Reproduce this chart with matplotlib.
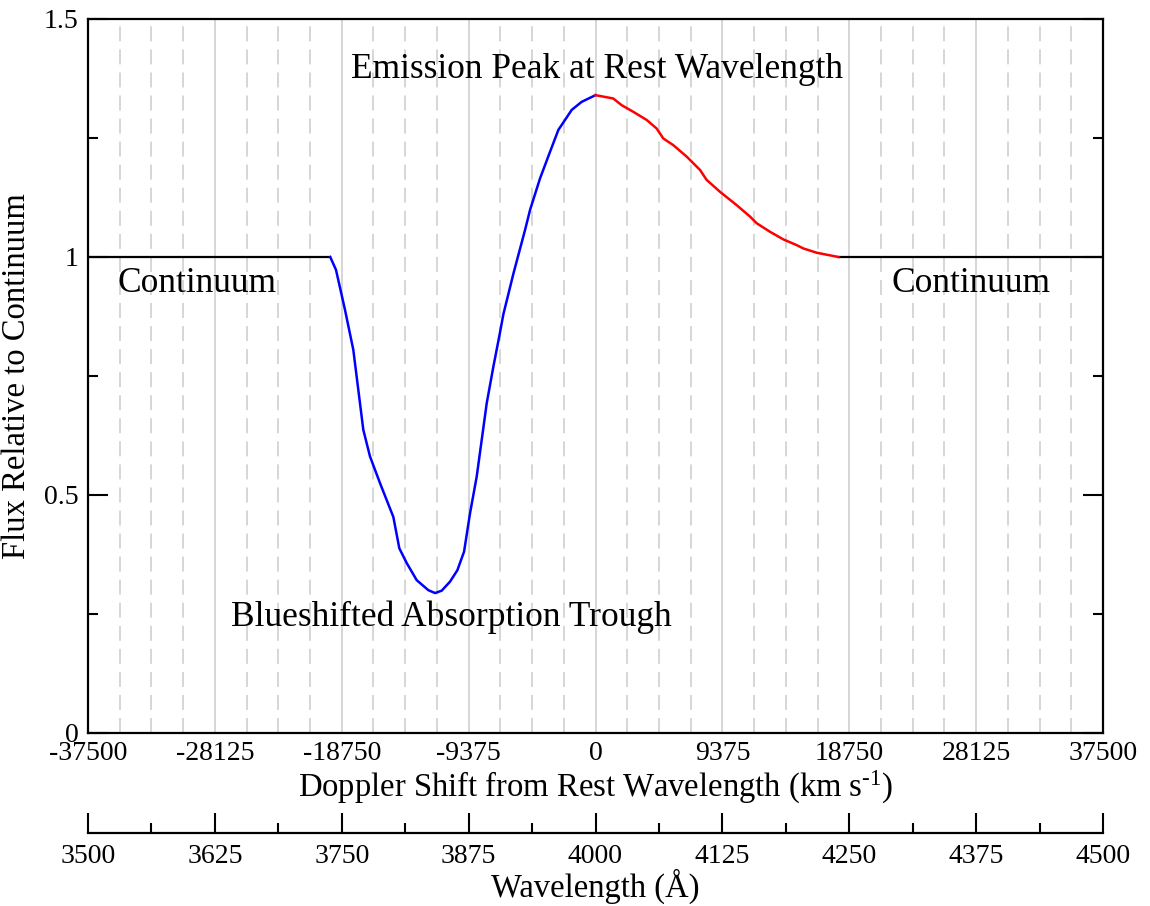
import matplotlib
matplotlib.use("Agg")
import matplotlib.pyplot as plt
from matplotlib.ticker import MultipleLocator, FormatStrFormatter

plt.rcParams['font.family'] = ['Liberation Serif', 'DejaVu Serif']
plt.rcParams['mathtext.fontset'] = 'custom'
plt.rcParams['mathtext.rm'] = 'Liberation Serif'
plt.rcParams['mathtext.it'] = 'Liberation Serif:italic'
plt.rcParams['axes.unicode_minus'] = False
plt.rcParams['lines.scale_dashes'] = False

# --- data ---
C_KMS = 3.0e5
REST_WL = 4000.0

# continuum on both sides
cont_left_v = [-37500, -19600]
cont_right_v = [17950, 37500]
cont_flux = [1.0, 1.0]

# blue side: absorption trough up to the peak
blue_v = [-19600, -19175, -18510, -17896, -17527, -17157, -16663, -15924,
          -14939, -14496, -13949, -13210, -12348, -11856, -11364, -10748,
          -10206, -9712, -9269, -8776, -8037, -7544, -7100, -6805, -6066,
          -5204, -4835, -4100, -3360, -2744, -2251, -1759, -1020, 0]
blue_flux = [1.000, 0.973, 0.889, 0.805, 0.721, 0.637, 0.581, 0.525,
             0.454, 0.388, 0.357, 0.321, 0.300, 0.294, 0.299, 0.318,
             0.342, 0.381, 0.462, 0.539, 0.693, 0.770, 0.835, 0.880, 0.965,
             1.057, 1.099, 1.165, 1.221, 1.267, 1.288, 1.309, 1.326, 1.340]

# red side: emission wing back down to the continuum
red_v = [0, 1314, 1930, 2792, 3777, 4516, 5009, 5748, 6733, 7719, 8211,
         9197, 10429, 11414, 11907, 12892, 13877, 14862, 15355, 16340, 17950]
red_flux = [1.340, 1.333, 1.319, 1.305, 1.288, 1.270, 1.249, 1.235, 1.211,
            1.183, 1.162, 1.137, 1.109, 1.085, 1.071, 1.053, 1.037, 1.025,
            1.018, 1.009, 1.000]

annotations = [
    ("Continuum", -29450, 0.945),
    ("Continuum", 27750, 0.945),
    ("Emission Peak at Rest Wavelength", 100, 1.393),
    ("Blueshifted Absorption Trough", -10680, 0.244),
]


def v_to_wl(v):
    return REST_WL * (1 + v / C_KMS)


def wl_to_v(wl):
    return (wl / REST_WL - 1) * C_KMS


fig = plt.figure(figsize=(11.5, 9.06), dpi=100)
ax = fig.add_axes([88 / 1150, 173 / 906, 1015 / 1150, 714 / 906])

ax.plot(cont_left_v, cont_flux, color='black', lw=1.6)
ax.plot(cont_right_v, cont_flux, color='black', lw=1.6)
ax.plot(blue_v, blue_flux, color='#0000ff', lw=1.8)
ax.plot(red_v, red_flux, color='#ff0000', lw=1.8)

for text, x, y in annotations:
    ax.text(x, y, text, ha='center', va='center', fontsize=25.5)

ax.set_xlim(-37500, 37500)
ax.set_ylim(0, 1.5)

ax.xaxis.set_major_locator(MultipleLocator(9375))
ax.xaxis.set_minor_locator(MultipleLocator(9375 / 4))
ax.yaxis.set_major_locator(MultipleLocator(0.5))
ax.yaxis.set_minor_locator(MultipleLocator(0.25))
ax.yaxis.set_major_formatter(FormatStrFormatter('%g'))

ax.tick_params(axis='x', which='both', length=0, labelsize=20, pad=6)
ax.tick_params(axis='y', which='both', direction='in', left=True, right=True,
               labelsize=20, pad=7, width=1.5)
ax.tick_params(axis='y', which='major', length=14.4)
ax.tick_params(axis='y', which='minor', length=7.2)

ax.grid(True, axis='x', which='major', color='#d6d6d6', lw=1.4, ls='-')
ax.grid(True, axis='x', which='minor', color='#d6d6d6', lw=1.4,
        ls=(0, (10.8, 5.8)))
ax.set_axisbelow(True)

for sp in ax.spines.values():
    sp.set_linewidth(1.6)

ax.set_ylabel("Flux Relative to Continuum", fontsize=23.5, labelpad=8)
ax.set_xlabel(r"Doppler Shift from Rest Wavelength (km s$^{\text{-1}}$)",
              fontsize=23.5, labelpad=2)

# wavelength scale drawn below the velocity axis
sec = ax.secondary_xaxis(-100 / 714, functions=(v_to_wl, wl_to_v))
sec.xaxis.set_major_locator(MultipleLocator(125))
sec.xaxis.set_minor_locator(MultipleLocator(62.5))
sec.tick_params(axis='x', which='both', direction='in', labelsize=20,
                width=1.5, pad=8)
sec.tick_params(axis='x', which='major', length=14.4)
sec.tick_params(axis='x', which='minor', length=7.2)
sec.spines['bottom'].set_linewidth(1.6)
sec.set_xlabel("Wavelength (Å)", fontsize=23.5, labelpad=0)

fig.savefig("out.png", dpi=100)
